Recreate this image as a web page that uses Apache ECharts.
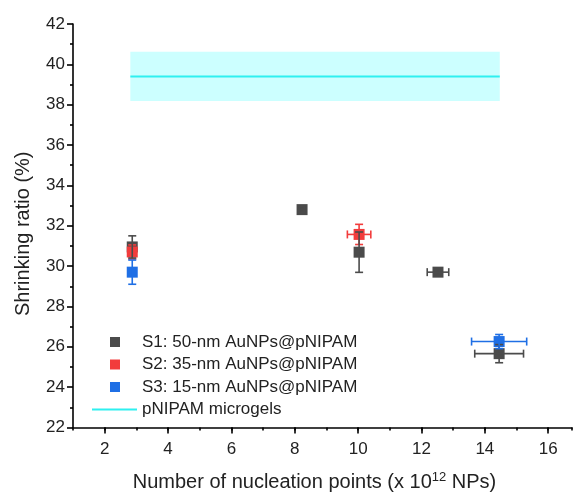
<!DOCTYPE html>
<html><head><meta charset="utf-8">
<script src="https://cdn.jsdelivr.net/npm/echarts@6/dist/echarts.min.js"></script>
<style>html,body{margin:0;padding:0;background:#fff}#c{width:575px;height:497px}</style>
</head><body><div id="c"></div>
<script>
// ---- data ----
const s1Name = 'S1: 50-nm AuNPs@pNIPAM';
const s1X = [2.87, 8.23, 10.03, 12.52, 14.45];
const s1Y = [30.95, 32.8, 30.69, 29.70, 25.66];
const s1XErr = [0, 0.08, 0, 0.34, 0.77];
const s1YErr = [0.55, 0.15, 1.0, 0.15, 0.45];

const s2Name = 'S2: 35-nm AuNPs@pNIPAM';
const s2X = [2.87, 10.03];
const s2Y = [30.7, 31.57];
const s2XErr = [0, 0.37];
const s2YErr = [0.35, 0.5];

const s3Name = 'S3: 15-nm AuNPs@pNIPAM';
const s3X = [2.87, 14.45];
const s3Y = [29.7, 26.26];
const s3XErr = [0, 0.87];
const s3YErr = [0.6, 0.35];

const refName = 'pNIPAM microgels';
const refX = [2.81, 14.47];
const refMean = 39.4;
const refLow = 38.18;
const refHigh = 40.63;

const xTickLabels = [2, 4, 6, 8, 10, 12, 14, 16];
const yTickLabels = [22, 24, 26, 28, 30, 32, 34, 36, 38, 40, 42];

// ---- styles ----
const C1 = '#4b4b4b', C2 = '#f23c3c', C3 = '#1f6fe5', CL = '#2ef0f0', CB = '#ccffff';
const FONT = 'Liberation Sans, Arial, sans-serif';

function pts(xs, ys) { return xs.map((x, i) => [x, ys[i]]); }
function errData(xs, ys, xe, ye) { return xs.map((x, i) => [x, ys[i], xe[i], ye[i]]); }

function errSeries(data, color, z) {
  return {
    type: 'custom', xAxisIndex: 0, yAxisIndex: 0, z: z, silent: true,
    data: data,
    renderItem: function (params, api) {
      const x = api.value(0), y = api.value(1), xe = api.value(2), ye = api.value(3);
      const st = { stroke: color, lineWidth: 1.6 };
      const cap = 4;
      const children = [];
      if (ye > 0) {
        const t = api.coord([x, y + ye]), b = api.coord([x, y - ye]);
        children.push({ type: 'line', shape: { x1: t[0], y1: t[1], x2: b[0], y2: b[1] }, style: st });
        children.push({ type: 'line', shape: { x1: t[0] - cap, y1: t[1], x2: t[0] + cap, y2: t[1] }, style: st });
        children.push({ type: 'line', shape: { x1: b[0] - cap, y1: b[1], x2: b[0] + cap, y2: b[1] }, style: st });
      }
      if (xe > 0) {
        const l = api.coord([x - xe, y]), r = api.coord([x + xe, y]);
        children.push({ type: 'line', shape: { x1: l[0], y1: l[1], x2: r[0], y2: r[1] }, style: st });
        children.push({ type: 'line', shape: { x1: l[0], y1: l[1] - cap, x2: l[0], y2: l[1] + cap }, style: st });
        children.push({ type: 'line', shape: { x1: r[0], y1: r[1] - cap, x2: r[0], y2: r[1] + cap }, style: st });
      }
      return { type: 'group', children: children };
    }
  };
}

function sq(name, data, color, z) {
  return { name: name, type: 'scatter', symbol: 'rect', symbolSize: 11, z: z,
    itemStyle: { color: color, opacity: 1 }, data: data, silent: true };
}

const chart = echarts.init(document.getElementById('c'), null, { renderer: 'canvas' });

const legendTop = 342, legendGap = 22.5;
const legendItems = [[s1Name, C1], [s2Name, C2], [s3Name, C3]];
const graphics = [];
legendItems.forEach((it, i) => {
  const cy = legendTop + i * legendGap;
  graphics.push({ type: 'rect', shape: { x: 110, y: cy - 5, width: 10, height: 10 }, style: { fill: it[1] } });
  graphics.push({ type: 'text', x: 142, y: cy, style: { text: it[0], font: '17px ' + FONT, fill: '#222', textVerticalAlign: 'middle' } });
});
const lcy = legendTop + 3 * legendGap;
graphics.push({ type: 'line', shape: { x1: 92, y1: lcy, x2: 137, y2: lcy }, style: { stroke: CL, lineWidth: 2 } });
graphics.push({ type: 'text', x: 142, y: lcy, style: { text: refName, font: '17px ' + FONT, fill: '#222', textVerticalAlign: 'middle' } });

chart.setOption({
  animation: false,
  backgroundColor: '#fff',
  grid: { left: 73, right: 0, top: 24, bottom: 64, containLabel: false },
  xAxis: [{
    type: 'value', min: 1, max: 16.75, interval: 1,
    name: 'Number of nucleation points (x 10{sup|12} NPs)',
    nameLocation: 'middle', nameGap: 43,
    nameTextStyle: { fontFamily: FONT, fontSize: 20, color: '#222', padding: [0, 16, 0, 0],
      rich: { sup: { fontSize: 13, verticalAlign: 'bottom', padding: [0, 0, 10, 0], fontFamily: FONT, color: '#222' } } },
    axisLine: { show: true, lineStyle: { color: '#000', width: 1.6 } },
    axisTick: { show: true, length: 3, lineStyle: { color: '#000', width: 1.6 } },
    axisLabel: { fontFamily: FONT, fontSize: 17, color: '#222', margin: 13,
      formatter: v => (xTickLabels.indexOf(v) >= 0 ? String(v) : '') },
    splitLine: { show: false }
  }, {
    type: 'value', min: 1, max: 16.75, position: 'bottom', gridIndex: 0,
    axisLine: { show: false },
    axisTick: { show: true, length: 6, customValues: xTickLabels, lineStyle: { color: '#000', width: 1.6 } },
    axisLabel: { show: false },
    splitLine: { show: false }
  }],
  yAxis: {
    type: 'value', min: 22, max: 42, interval: 2,
    name: 'Shrinking ratio (%)', nameLocation: 'middle', nameGap: 40,
    nameTextStyle: { fontFamily: FONT, fontSize: 20, color: '#222', padding: [0, 16, 0, 0] },
    axisLine: { show: true, lineStyle: { color: '#000', width: 1.6 } },
    axisTick: { show: true, length: 6, lineStyle: { color: '#000', width: 1.6 } },
    minorTick: { show: true, splitNumber: 2, length: 3, lineStyle: { color: '#000', width: 1.6 } },
    axisLabel: { fontFamily: FONT, fontSize: 17, color: '#222', margin: 8,
      formatter: v => (yTickLabels.indexOf(v) >= 0 ? String(v) : '') },
    splitLine: { show: false }
  },
  series: [
    { name: refName, type: 'line', symbol: 'none', z: 1, silent: true,
      data: refX.map(x => [x, refMean]),
      lineStyle: { color: CL, width: 2 },
      markArea: { silent: true, itemStyle: { color: CB, opacity: 1 },
        data: [[{ coord: [refX[0], refLow] }, { coord: [refX[1], refHigh] }]] } },
    sq(s1Name, pts(s1X, s1Y), C1, 3),
    sq(s2Name, pts(s2X, s2Y), C2, 4),
    sq(s3Name, pts(s3X, s3Y), C3, 5),
    errSeries(errData(s1X, s1Y, s1XErr, s1YErr), C1, 6),
    errSeries(errData(s2X, s2Y, s2XErr, s2YErr), C2, 4),
    errSeries(errData(s3X, s3Y, s3XErr, s3YErr), C3, 7)
  ],
  graphic: graphics
});
</script></body></html>
